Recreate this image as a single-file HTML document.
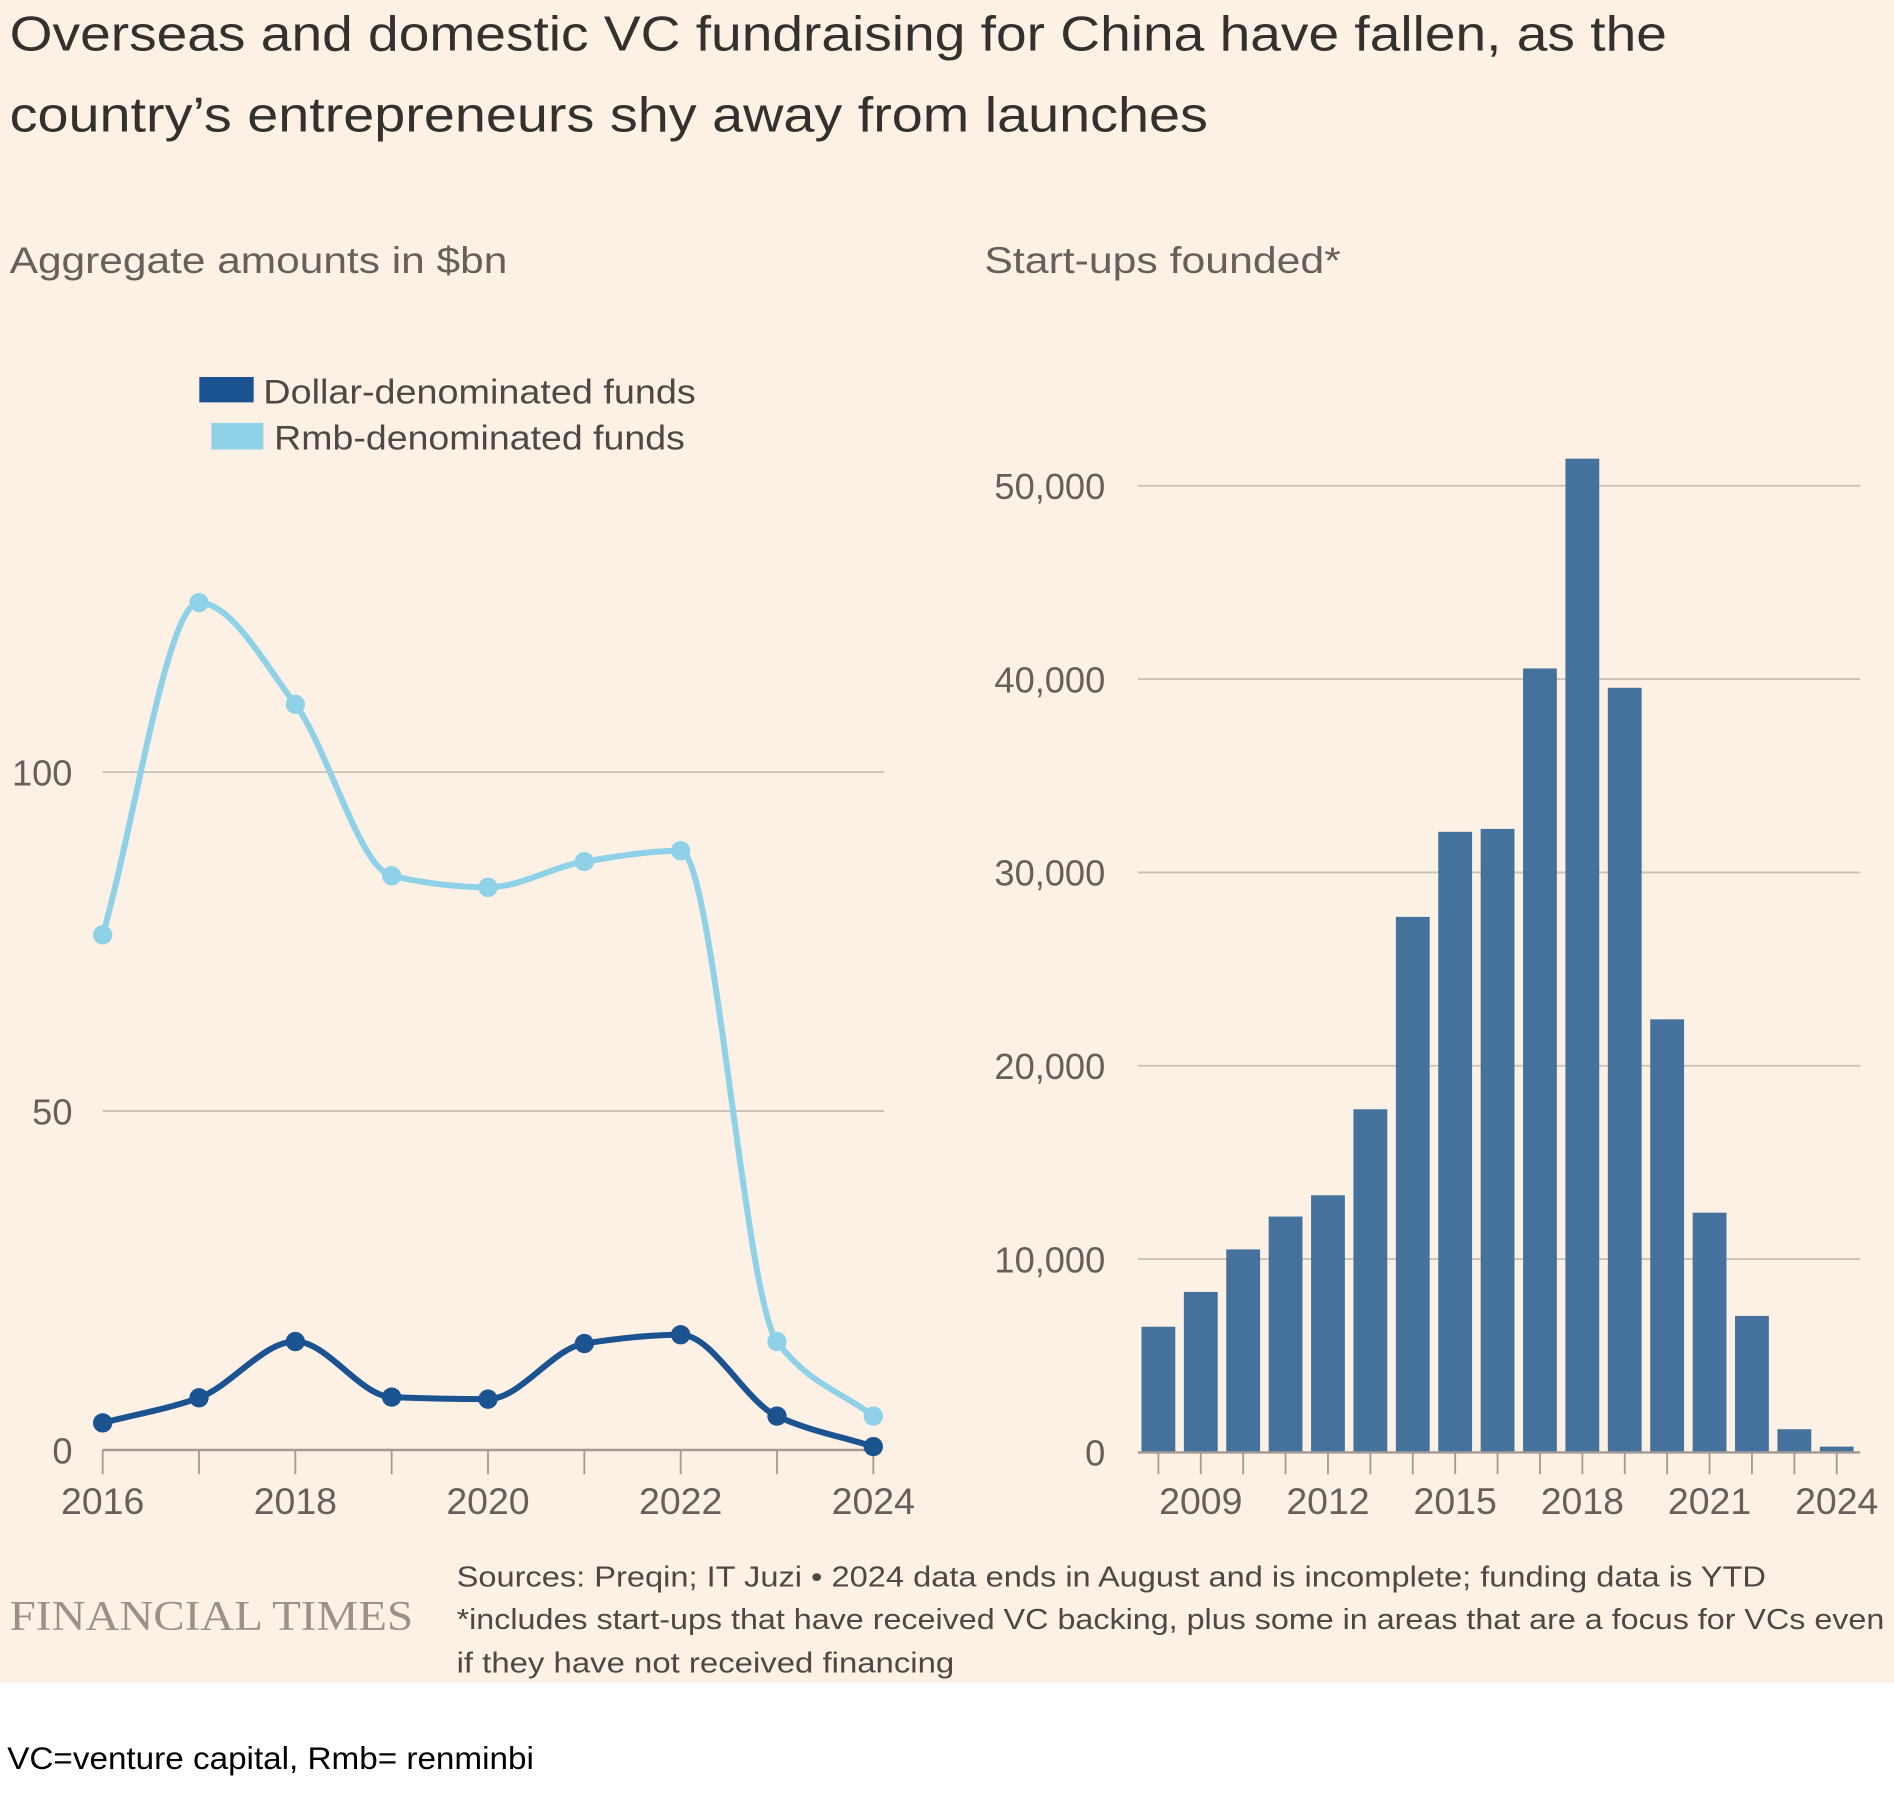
<!DOCTYPE html>
<html><head><meta charset="utf-8"><style>
html,body{margin:0;padding:0;background:#fff;}
svg{display:block;}
text{font-family:"Liberation Sans",sans-serif;}
</style></head><body>
<svg id="c" width="1894" height="1798" viewBox="0 0 1568 1488" preserveAspectRatio="none" xmlns="http://www.w3.org/2000/svg">
<rect x="0" y="0" width="1568" height="1393" fill="#fdf1e6"/>
<text x="8" y="42" font-size="41" fill="#33302e" textLength="1372" lengthAdjust="spacingAndGlyphs">Overseas and domestic VC fundraising for China have fallen, as the</text>
<text x="8" y="109" font-size="41" fill="#33302e" textLength="992" lengthAdjust="spacingAndGlyphs">country’s entrepreneurs shy away from launches</text>
<text x="8" y="226" font-size="31" fill="#66605c" textLength="412" lengthAdjust="spacingAndGlyphs">Aggregate amounts in $bn</text>
<text x="815" y="226" font-size="31" fill="#66605c" textLength="295" lengthAdjust="spacingAndGlyphs">Start-ups founded*</text>
<rect x="165" y="312" width="45" height="21" fill="#1b5290"/>
<text x="218" y="334" font-size="28" fill="#4d4845" textLength="358" lengthAdjust="spacingAndGlyphs">Dollar-denominated funds</text>
<rect x="175" y="350" width="43" height="22" fill="#8fd2e8"/>
<text x="227" y="372" font-size="28" fill="#4d4845" textLength="340" lengthAdjust="spacingAndGlyphs">Rmb-denominated funds</text>
<g id="left"></g>
<g id="right"></g>
<text x="8" y="1349" font-size="35" fill="#9a918a" textLength="334" lengthAdjust="spacingAndGlyphs" style="font-family:'Liberation Serif',serif">FINANCIAL TIMES</text>
<text x="378" y="1313" font-size="24" fill="#4d4845" textLength="1084" lengthAdjust="spacingAndGlyphs">Sources: Preqin; IT Juzi • 2024 data ends in August and is incomplete; funding data is YTD</text>
<text x="378" y="1348" font-size="24" fill="#4d4845" textLength="1182" lengthAdjust="spacingAndGlyphs">*includes start-ups that have received VC backing, plus some in areas that are a focus for VCs even</text>
<text x="378" y="1384" font-size="24" fill="#4d4845" textLength="412" lengthAdjust="spacingAndGlyphs">if they have not received financing</text>
<text x="6" y="1464" font-size="26" fill="#000" textLength="436" lengthAdjust="spacingAndGlyphs">VC=venture capital, Rmb= renminbi</text>
</svg>
<script>
const lineYears=[2016,2017,2018,2019,2020,2021,2022,2023,2024];
const rmbValues=[76,125,110,84.7,83,86.8,88.4,16,5];
const dollarValues=[4,7.7,16,7.8,7.5,15.7,17,5,0.5];
const leftTicks=[0,50,100];
const leftXLabels=[2016,2018,2020,2022,2024];
const barYears=[2008,2009,2010,2011,2012,2013,2014,2015,2016,2017,2018,2019,2020,2021,2022,2023,2024];
const barValues=[6500,8300,10500,12200,13300,17750,27700,32100,32250,40550,51400,39550,22400,12400,7060,1200,300];
const rightTicks=[0,10000,20000,30000,40000,50000];
const rightXLabels=[2009,2012,2015,2018,2021,2024];

const NS="http://www.w3.org/2000/svg";
function mk(tag,attrs,parent){const e=document.createElementNS(NS,tag);for(const k in attrs)e.setAttribute(k,attrs[k]);parent.appendChild(e);return e;}
const L=document.getElementById('left'),R=document.getElementById('right');
const lx=y=>85+(y-2016)*(723-85)/8;
const ly=v=>1200-v*5.61;
leftTicks.forEach(t=>{
  if(t>0){const g=mk('line',{x1:85,x2:732,y1:ly(t),y2:ly(t),stroke:'#ccc1b7','stroke-width':1.5},L);
  
  }
  const tx=mk('text',{x:60,y:ly(t)+11,'font-size':30,fill:'#66605c','text-anchor':'end'},L);tx.textContent=t;
  
  
});
const ax=mk('line',{x1:85,x2:723,y1:1200,y2:1200,stroke:'#a39a92','stroke-width':2},L);


lineYears.forEach(y=>{const t=mk('line',{x1:lx(y),x2:lx(y),y1:1200,y2:1220,stroke:'#a39a92','stroke-width':1.5},L);
  
  });
leftXLabels.forEach(y=>{const t=mk('text',{x:lx(y),y:1253,'font-size':31,fill:'#66605c','text-anchor':'middle'},L);t.textContent=y;
  
  });
function monotone(pts){
  const n=pts.length,dx=[],s=[],m=[];
  for(let i=0;i<n-1;i++){dx[i]=pts[i+1][0]-pts[i][0];s[i]=(pts[i+1][1]-pts[i][1])/dx[i];}
  m[0]=s[0];m[n-1]=s[n-2];
  for(let i=1;i<n-1;i++){m[i]=(s[i-1]*s[i]<=0)?0:3*(dx[i-1]+dx[i])/((2*dx[i]+dx[i-1])/s[i-1]+(dx[i]+2*dx[i-1])/s[i]);}
  let d='M'+pts[0][0]+','+pts[0][1];
  for(let i=0;i<n-1;i++){const h=dx[i]/3;
    d+=' C'+(pts[i][0]+h)+','+(pts[i][1]+m[i]*h)+' '+(pts[i+1][0]-h)+','+(pts[i+1][1]-m[i+1]*h)+' '+pts[i+1][0]+','+pts[i+1][1];}
  return d;}
function series(vals,color,name){
  const pts=vals.map((v,i)=>[lx(lineYears[i]),ly(v)]);
  const p=mk('path',{d:monotone(pts),fill:'none',stroke:color,'stroke-width':5,'stroke-linejoin':'round'},L);
  
  
  pts.forEach(q=>{const c=mk('circle',{cx:q[0],cy:q[1],r:8,fill:color},L);
    
    });
}
series(rmbValues,'#8fd2e8','rmb');
series(dollarValues,'#1b5290','dollar');

const rx=y=>959+(y-2008)*35.1;
const ry=v=>1202-v*0.016;
rightTicks.forEach(t=>{
  if(t>0){const g=mk('line',{x1:942,x2:1540,y1:ry(t),y2:ry(t),stroke:'#ccc1b7','stroke-width':1.5},R);
  
  }
  const tx=mk('text',{x:915,y:ry(t)+11,'font-size':30,fill:'#66605c','text-anchor':'end'},R);tx.textContent=t.toLocaleString('en-US');
  
  
});
barYears.forEach((y,i)=>{const b=mk('rect',{x:rx(y)-14,y:ry(barValues[i]),width:28,height:1202-ry(barValues[i]),fill:'#44729c'},R);
  
  
  const t=mk('line',{x1:rx(y),x2:rx(y),y1:1202,y2:1220,stroke:'#a39a92','stroke-width':1.5},R);
  
  });
const ax2=mk('line',{x1:942,x2:1540,y1:1202,y2:1202,stroke:'#a39a92','stroke-width':2},R);


rightXLabels.forEach(y=>{const t=mk('text',{x:rx(y),y:1253,'font-size':31,fill:'#66605c','text-anchor':'middle'},R);t.textContent=y;
  
  });
</script>
</body></html>
